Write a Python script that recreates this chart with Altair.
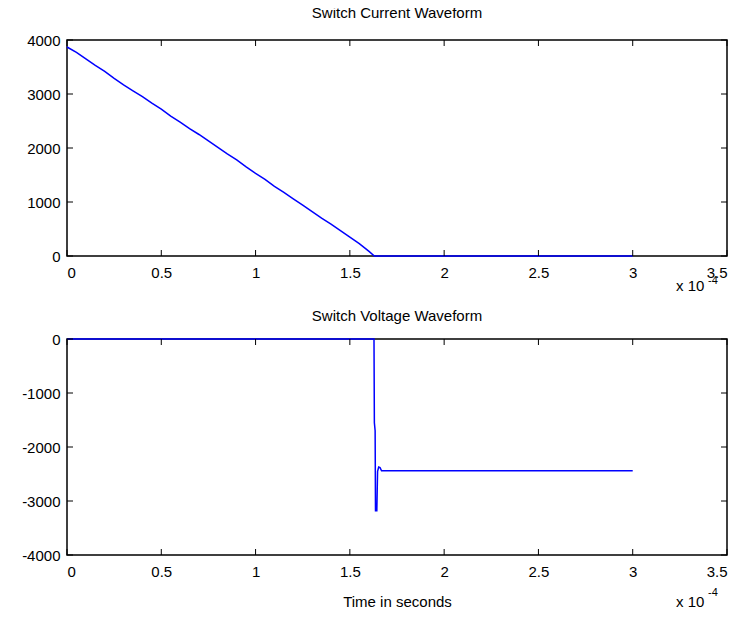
import altair as alt
import pandas as pd

# time in units of 1e-4 s (axis shows "x 10^-4")
cur_time = [0.00, 0.05, 0.10, 0.15, 0.20, 0.25, 0.30, 0.35, 0.40, 0.45, 0.50, 0.55,
            0.60, 0.65, 0.70, 0.75, 0.80, 0.85, 0.90, 0.95, 1.00, 1.05, 1.10, 1.15,
            1.20, 1.25, 1.30, 1.35, 1.40, 1.45, 1.50, 1.55, 1.60, 1.63, 3.00]
cur_vals = [3870, 3770, 3650, 3530, 3420, 3290, 3170, 3060, 2950, 2830, 2720, 2590,
            2480, 2360, 2250, 2130, 2010, 1890, 1780, 1650, 1530, 1420, 1290, 1180,
            1060, 940, 820, 700, 590, 470, 350, 230, 90, 0, 0]

volt_time = [0.000, 1.628, 1.630, 1.634, 1.636, 1.643, 1.647, 1.653, 1.660, 1.668, 1.690, 3.000]
volt_vals = [0, 0, -1550, -1700, -3180, -3180, -2450, -2370, -2380, -2440, -2440, -2440]

x_ticks = [0, 0.5, 1, 1.5, 2, 2.5, 3, 3.5]
y_ticks_top = [0, 1000, 2000, 3000, 4000]
y_ticks_bot = [-4000, -3000, -2000, -1000, 0]

titles = ["Switch Current Waveform", "Switch Voltage Waveform"]
x_label = "Time in seconds"

W, H = 660, 216
FONT = "Liberation Sans"
FS = 15
BLUE = "#0000ff"


def panel(time, vals, ydom, yticks, title, title_y, exp_y, sup_dy, xtitle=None):
    df = pd.DataFrame({"t": time, "v": vals})
    xsc = alt.Scale(domain=[0, 3.5], nice=False, zero=False)
    ysc = alt.Scale(domain=ydom, nice=False, zero=False)
    ax_kw = dict(grid=False, ticks=False, domain=False, labelFont=FONT, labelFontSize=FS,
                 labelColor="black")
    if xtitle:
        xaxis = alt.Axis(values=x_ticks, format="~g", title=xtitle, titleFont=FONT,
                         titleFontSize=FS, titleFontWeight="normal", titleColor="black",
                         titlePadding=15, labelPadding=9, labelFlush=3, **ax_kw)
    else:
        xaxis = alt.Axis(values=x_ticks, format="~g", title=None, labelPadding=9,
                         labelFlush=3, **ax_kw)
    yaxis = alt.Axis(values=yticks, labelExpr="'' + datum.value", title=None,
                     labelPadding=7, labelFlush=False, **ax_kw)
    line = alt.Chart(df).mark_line(color=BLUE, strokeWidth=1.5).encode(
        x=alt.X("t:Q", scale=xsc, axis=xaxis),
        y=alt.Y("v:Q", scale=ysc, axis=yaxis),
    )
    xt = pd.DataFrame({"t": x_ticks})
    yt = pd.DataFrame({"v": yticks})
    tick_style = dict(color="black", strokeWidth=1)
    xb = alt.Chart(xt).mark_rule(**tick_style).encode(
        x=alt.X("t:Q", scale=xsc), y=alt.value(H), y2=alt.value(H - 6))
    xtp = alt.Chart(xt).mark_rule(**tick_style).encode(
        x=alt.X("t:Q", scale=xsc), y=alt.value(0), y2=alt.value(6))
    yl = alt.Chart(yt).mark_rule(**tick_style).encode(
        y=alt.Y("v:Q", scale=ysc), x=alt.value(0), x2=alt.value(6))
    yr = alt.Chart(yt).mark_rule(**tick_style).encode(
        y=alt.Y("v:Q", scale=ysc), x=alt.value(W - 6), x2=alt.value(W))
    ttl = alt.Chart(pd.DataFrame({"s": [title]})).mark_text(
        font=FONT, fontSize=FS, align="center", baseline="middle", color="black").encode(
        x=alt.value(W / 2), y=alt.value(title_y), text="s:N")
    exp1 = alt.Chart(pd.DataFrame({"s": ["x 10"]})).mark_text(
        font=FONT, fontSize=FS, align="left", baseline="middle", color="black").encode(
        x=alt.value(609), y=alt.value(H + exp_y), text="s:N")
    exp2 = alt.Chart(pd.DataFrame({"s": ["-4"]})).mark_text(
        font=FONT, fontSize=11, align="left", baseline="middle", color="black").encode(
        x=alt.value(641), y=alt.value(H + exp_y - sup_dy), text="s:N")
    return alt.layer(line, xb, xtp, yl, yr, ttl, exp1, exp2).properties(width=W, height=H)


top = panel(cur_time, cur_vals, [0, 4000], y_ticks_top, titles[0], -27, 30, 5)
bot = panel(volt_time, volt_vals, [-4000, 0], y_ticks_bot, titles[1], -23, 47, 9,
            xtitle=x_label)

chart = alt.vconcat(top, bot, spacing=13).properties(
    padding={"left": 12, "top": -3, "right": 0, "bottom": -3},
    background="white",
).configure_view(stroke="black", strokeWidth=1.5)

chart.save("out.html", embed_options={"renderer": "svg", "actions": False})
